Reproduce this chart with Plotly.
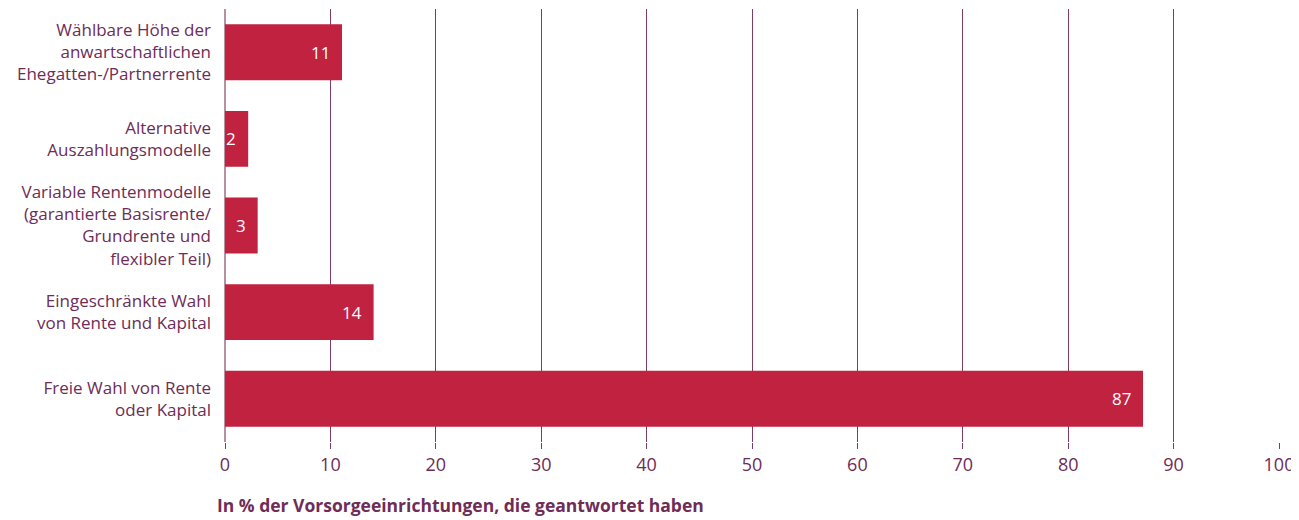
"""Horizontal bar chart: Auszahlungsoptionen der Vorsorgeeinrichtungen"""

import plotly.graph_objects as go

categories = [
    "Wählbare Höhe der<br>anwartschaftlichen<br>Ehegatten-/Partnerrente",
    "Alternative<br>Auszahlungsmodelle",
    "Variable Rentenmodelle<br>(garantierte Basisrente/<br>Grundrente und<br>flexibler Teil)",
    "Eingeschränkte Wahl<br>von Rente und Kapital",
    "Freie Wahl von Rente<br>oder Kapital",
]
values = [11.1, 2.2, 3.1, 14.1, 87.1]
value_labels = ["11", "2", "3", "14", "87"]
x_ticks = [0, 10, 20, 30, 40, 50, 60, 70, 80, 90, 100]
x_title = "In % der Vorsorgeeinrichtungen, die geantwortet haben"

BAR = "#c0223f"
TEXT = "#6e2c57"
GRID = "#7d3d63"
FONT = "Open Sans"

fig = go.Figure(
    go.Bar(
        x=values,
        y=categories,
        orientation="h",
        marker=dict(color=BAR, line=dict(width=0)),
        hoverinfo="skip",
    )
)

# value labels inside the bar ends
for cat, val, lab in zip(categories, values, value_labels):
    fig.add_annotation(
        x=val, y=cat, text=lab, showarrow=False,
        xanchor="right", xshift=-10,
        font=dict(family=FONT, size=17, color="white"),
    )

fig.add_annotation(
    x=-10 / 1054, xref="paper", xanchor="left",
    y=0, yref="paper", yanchor="middle", yshift=-63,
    text=f"<b>{x_title}</b>", showarrow=False,
    font=dict(family=FONT, size=17.5, color=TEXT),
)

# page body has an 8px margin, so the figure is sized and offset for it
fig.update_layout(
    width=1291,
    height=512,
    margin=dict(l=217, r=20, t=1, b=78),
    plot_bgcolor="white",
    paper_bgcolor="white",
    bargap=0.355,
    showlegend=False,
    font=dict(family=FONT, size=18, color=TEXT),
)
fig.update_xaxes(
    range=[0, 100],
    tickvals=x_ticks,
    showgrid=True,
    gridcolor=GRID,
    gridwidth=1,
    ticks="outside",
    ticklen=6,
    tickcolor=GRID,
    zeroline=True,
    zerolinecolor="#b8919f",
    zerolinewidth=2,
    showline=False,
    automargin=False,
    tickfont=dict(family=FONT, size=18, color=TEXT),
)
fig.update_yaxes(
    autorange="reversed",
    showgrid=False,
    ticks="",
    ticklabelstandoff=13,
    automargin=False,
    tickfont=dict(family=FONT, size=17, color=TEXT),
)

fig.write_html("out.html")
